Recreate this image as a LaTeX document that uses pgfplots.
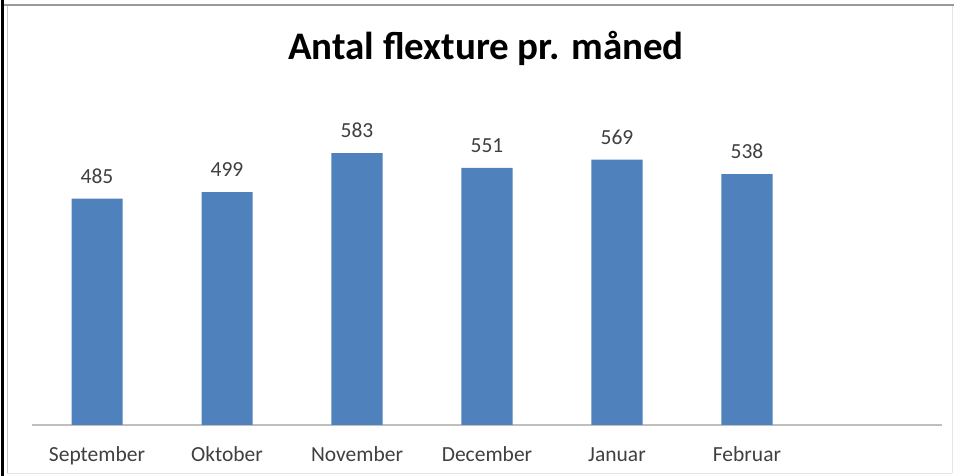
\documentclass[border=0pt]{standalone}
\usepackage{fontspec}
\setmainfont{Carlito}
\usepackage{pgfplots}
\pgfplotsset{compat=1.18}
\definecolor{barblue}{HTML}{4F81BD}
\definecolor{txt}{HTML}{404040}
\definecolor{axisgray}{HTML}{BFBFBF}
\begin{document}
\begin{tikzpicture}
\path[use as bounding box] (0pt,0pt) rectangle (954pt,476pt);
\fill[white] (0pt,0pt) rectangle (954pt,476pt);
\draw[black, line width=3pt] (2pt,0pt) -- (2pt,476pt);
\draw[gray!80, line width=1.5pt] (4pt,471pt) -- (954pt,471pt);
\draw[gray!45, line width=1pt] (7pt,2pt) -- (7pt,470pt);
\draw[gray!20, line width=0.8pt] (952pt,3pt) -- (952pt,470pt);
\draw[gray!20, line width=0.8pt] (7pt,3pt) -- (952pt,3pt);
\node[anchor=base, font=\fontsize{39}{44}\selectfont\bfseries, text=black] at (486pt,416pt) {Antal flexture pr. måned};
\begin{axis}[
  at={(32pt,51pt)}, anchor=south west,
  scale only axis, width=910pt, height=326.55pt,
  xmin=-0.5, xmax=6.5, ymin=0, ymax=700,
  axis x line*=bottom, hide y axis,
  axis line style={draw=axisgray, line width=1.5pt},
  xtick={0,1,2,3,4,5},
  xticklabels={September,Oktober,November,December,Januar,Februar},
  major tick length=0pt,
  xticklabel style={anchor=base, yshift=-37pt, font=\fontsize{21.5}{24}\selectfont, text=txt},
  ybar, bar width=51pt,
  nodes near coords,
  /pgf/number format/assume math mode=true,
  every node near coord/.append style={anchor=base, yshift=15.5pt, font=\fontsize{21.5}{24}\selectfont, text=txt},
  clip=false,
]
\addplot[fill=barblue, draw=none] coordinates {(0,485) (1,499) (2,583) (3,551) (4,569) (5,538)};
\end{axis}
\end{tikzpicture}
\end{document}
